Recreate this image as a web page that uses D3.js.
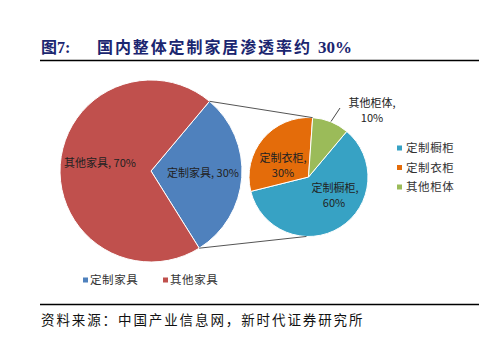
<!DOCTYPE html>
<html><head><meta charset="utf-8">
<script src="https://cdn.jsdelivr.net/npm/d3@7"></script>
<style>body{margin:0;background:#fff}svg{display:block}</style>
</head><body>
<script>
const mainCategories = ["定制家具", "其他家具"];
const mainValues = [30, 70];
const subCategories = ["定制橱柜", "定制衣柜", "其他柜体"];
const subValues = [60, 30, 10];
const titleText = "图7:";
const titleMain = "国内整体定制家居渗透率约";
const titleNum = "30%";
const sourceText = "资料来源：中国产业信息网，新时代证券研究所";

const W = 488, H = 352;
const svg = d3.select("body").append("svg").attr("width", W).attr("height", H);
const cjk = "'Noto Sans CJK SC', sans-serif";

// Title
svg.append("text").attr("x", 41).attr("y", 53).attr("fill", "#1b2670")
  .attr("font-family", "'Liberation Serif', " + cjk).attr("font-weight", "bold").attr("font-size", 16)
  .text(titleText);
svg.append("text").attr("x", 97).attr("y", 53).attr("fill", "#1b2670")
  .attr("font-family", cjk).attr("font-weight", "bold").attr("font-size", 16).attr("letter-spacing", 1.9)
  .text(titleMain);
svg.append("text").attr("x", 318).attr("y", 53).attr("fill", "#1b2670")
  .attr("font-family", "'Liberation Serif', serif").attr("font-weight", "bold").attr("font-size", 17)
  .text(titleNum);
svg.append("line").attr("x1", 40).attr("x2", 479).attr("y1", 60.5).attr("y2", 60.5).attr("stroke", "#000").attr("stroke-width", 1.3);
svg.append("line").attr("x1", 40).attr("x2", 479).attr("y1", 304.5).attr("y2", 304.5).attr("stroke", "#000").attr("stroke-width", 1.3);
svg.append("text").attr("x", 41).attr("y", 325).attr("fill", "#111")
  .attr("font-family", cjk).attr("font-size", 13.5).attr("letter-spacing", 1.9)
  .text(sourceText);

const deg = Math.PI / 180;
const mainColors = d3.scaleOrdinal().domain(mainCategories).range(["#4F81BD", "#C0504D"]);
const subColors = d3.scaleOrdinal().domain(subCategories).range(["#37A2C4", "#E46C0A", "#9BBB59"]);

// main pie
const mc = [151, 171], mr = 91;
const mainPie = d3.pie().sort(null).startAngle(40 * deg).endAngle(400 * deg);
const mainArcs = mainPie(mainValues);
const mArc = d3.arc().innerRadius(0).outerRadius(mr);
const gm = svg.append("g").attr("transform", `translate(${mc})`);
gm.selectAll("path").data(mainArcs).join("path").attr("d", mArc)
  .attr("fill", (d, i) => mainColors(mainCategories[i])).attr("stroke", "#fff").attr("stroke-width", 1);

// sub pie
const sc = [308.5, 177], sr = 59.5;
const subPie = d3.pie().sort(null).startAngle(40 * deg).endAngle(400 * deg);
const subArcs = subPie(subValues);
const sArc = d3.arc().innerRadius(0).outerRadius(sr);
const gs = svg.append("g").attr("transform", `translate(${sc})`);
gs.selectAll("path").data(subArcs).join("path").attr("d", sArc)
  .attr("fill", (d, i) => subColors(subCategories[i])).attr("stroke", "#fff").attr("stroke-width", 1);

// connector lines
function pt(c, r, a) { return [c[0] + r * Math.sin(a), c[1] - r * Math.cos(a)]; }
const b = mainArcs[0];
const top1 = pt(mc, mr, b.startAngle), bot1 = pt(mc, mr, b.endAngle);
const top2 = pt(sc, sr, 4 * deg), bot2 = pt(sc, sr, 182 * deg);
svg.append("line").attr("x1", top1[0]).attr("y1", top1[1]).attr("x2", top2[0]).attr("y2", top2[1]).attr("stroke", "#555").attr("stroke-width", 1);
svg.append("line").attr("x1", bot1[0]).attr("y1", bot1[1]).attr("x2", bot2[0]).attr("y2", bot2[1]).attr("stroke", "#555").attr("stroke-width", 1);

// labels
const lf = cjk, lfs = 11;
function lab(x, y, t, anchor) {
  svg.append("text").attr("x", x).attr("y", y).attr("text-anchor", anchor || "middle")
    .attr("font-family", lf).attr("font-size", lfs).attr("fill", "#222").text(t);
}
lab(100, 167, mainCategories[1] + ", " + mainValues[1] + "%");
lab(203, 177, mainCategories[0] + ", " + mainValues[0] + "%");
lab(283, 162, subCategories[1] + ",");
lab(283, 177, subValues[1] + "%");
lab(335, 192, subCategories[0] + ",");
lab(334, 207, subValues[0] + "%");
lab(372, 107, subCategories[2] + ",");
lab(372, 122, subValues[2] + "%");
svg.append("line").attr("x1", 340).attr("y1", 108).attr("x2", 331).attr("y2", 121.5).attr("stroke", "#333").attr("stroke-width", 0.9);

// right legend
const lg = svg.append("g");
subCategories.forEach((c, i) => {
  const y = 148 + i * 19.5;
  lg.append("rect").attr("x", 397).attr("y", y - 2.5).attr("width", 5).attr("height", 5).attr("fill", subColors(c));
  lg.append("text").attr("x", 406).attr("y", y + 4).attr("font-family", lf).attr("font-size", 11.5)
    .attr("fill", "#333").attr("letter-spacing", 0.6).text(c);
});
// bottom legend
mainCategories.forEach((c, i) => {
  const x = 83 + i * 80;
  svg.append("rect").attr("x", x).attr("y", 277.5).attr("width", 5).attr("height", 5).attr("fill", mainColors(c));
  svg.append("text").attr("x", x + 7).attr("y", 284).attr("font-family", lf).attr("font-size", 11.5)
    .attr("fill", "#333").attr("letter-spacing", 0.6).text(c);
});
</script>
</body></html>
